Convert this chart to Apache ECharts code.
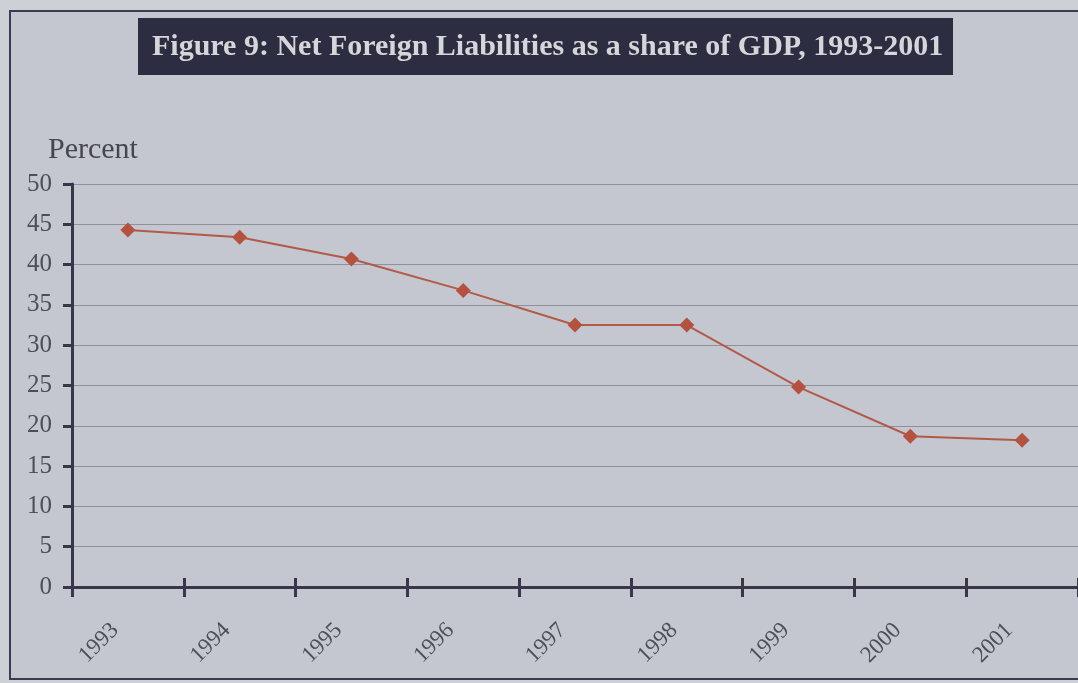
<!DOCTYPE html>
<html>
<head>
<meta charset="utf-8">
<script src="https://cdn.jsdelivr.net/npm/echarts@6/dist/echarts.min.js"></script>
<style>
html,body{margin:0;padding:0;background:#cdd0d5;}
#chart{width:1078px;height:683px;}
</style>
</head>
<body>
<div id="chart"></div>
<script>
const titleText = 'Figure 9: Net Foreign Liabilities as a share of GDP, 1993-2001';
const yAxisTitle = 'Percent';
const years = ['1993','1994','1995','1996','1997','1998','1999','2000','2001'];
const netForeignLiabilities = [44.3, 43.4, 40.7, 36.8, 32.5, 32.5, 24.8, 18.7, 18.2];
const yTicks = [0, 5, 10, 15, 20, 25, 30, 35, 40, 45, 50];

const serif = 'Liberation Serif, Times New Roman, serif';
const chart = echarts.init(document.getElementById('chart'));
chart.setOption({
  backgroundColor: '#cdd0d5',
  animation: false,
  graphic: [
    {type:'rect', z:-10, shape:{x:10, y:11, width:1100, height:668}, style:{fill:'#c4c7d0', stroke:'#3a3c52', lineWidth:2}},
    {type:'rect', z:-5, shape:{x:138, y:18, width:815, height:57}, style:{fill:'#2c2d40'}}
  ],
  title: [
    {text: titleText, left: 147, top: 27, textStyle:{fontFamily: serif, fontWeight:'bold', fontSize:30, color:'#d6d6da'}},
    {text: yAxisTitle, left: 43, top: 130, textStyle:{fontFamily: serif, fontWeight:'normal', fontSize:30, color:'#46464e'}}
  ],
  grid: {left: 72, right: -3, top: 184, bottom: 96},
  xAxis: [
    {type:'category', data: years, boundaryGap:true,
     axisLine:{show:true, lineStyle:{color:'#38374a', width:3}},
     axisTick:{show:true, inside:false, length:10, lineStyle:{color:'#38374a', width:3}},
     axisLabel:{rotate:45, margin:27, fontFamily: serif, fontSize:23, color:'#4e4e56', padding:[0,18,0,0]},
     splitLine:{show:false}},
    {type:'category', data: years, boundaryGap:true, position:'bottom',
     axisLine:{show:false},
     axisTick:{show:true, inside:true, length:9, lineStyle:{color:'#38374a', width:3}},
     axisLabel:{show:false}, splitLine:{show:false}}
  ],
  yAxis: {
    type:'value', min: yTicks[0], max: yTicks[yTicks.length-1], interval: 5,
    axisLine:{show:true, lineStyle:{color:'#38374a', width:3}},
    axisTick:{show:true, length:9, lineStyle:{color:'#38374a', width:3}},
    axisLabel:{margin:20, fontFamily: serif, fontSize:25, color:'#4e4e56'},
    splitLine:{show:true, lineStyle:{color:'#8e909a', width:1}}
  },
  series: [{
    type:'line', data: netForeignLiabilities,
    symbol:'diamond', symbolSize:15,
    lineStyle:{color:'#b25a48', width:2},
    itemStyle:{color:'#b5513f'}
  }]
});
</script>
</body>
</html>
